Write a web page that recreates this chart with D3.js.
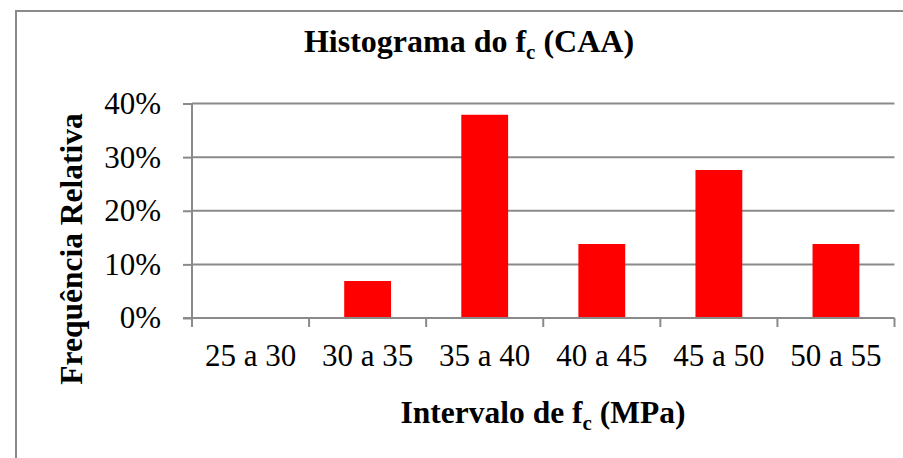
<!DOCTYPE html>
<html>
<head>
<meta charset="utf-8">
<script src="https://cdn.jsdelivr.net/npm/d3@7"></script>
<style>
  html, body { margin: 0; padding: 0; background: #fff; }
  svg { display: block; }
  text { font-family: "Liberation Serif", "Times New Roman", serif; fill: #000; }
</style>
</head>
<body>
<svg id="chart" width="903" height="458"></svg>
<script>
// Histogram of compressive strength classes (relative frequency)
const categories = ["25 a 30", "30 a 35", "35 a 40", "40 a 45", "45 a 50", "50 a 55"];
const frequencies = [0, 0.069, 0.379, 0.138, 0.276, 0.138];
const yTicks = [0, 0.1, 0.2, 0.3, 0.4];

const svg = d3.select("#chart");
const gray = "#8a8a8a";

// Outer chart frame (extends beyond the visible page on right and bottom)
svg.append("rect")
  .attr("x", 16).attr("y", 11)
  .attr("width", 960).attr("height", 500)
  .attr("fill", "#fff")
  .attr("stroke", gray).attr("stroke-width", 2);

const plot = { left: 192, right: 894.5, top: 103.5, bottom: 318 };

const x = d3.scaleBand()
  .domain(categories)
  .range([plot.left, plot.right])
  .paddingInner(0.6)
  .paddingOuter(0.3);

const xEdges = d3.scaleBand()
  .domain(categories)
  .range([plot.left, plot.right])
  .padding(0);

const y = d3.scaleLinear()
  .domain([0, 0.4])
  .range([plot.bottom, plot.top]);

// Horizontal gridlines
svg.append("g")
  .selectAll("line")
  .data(yTicks.filter(t => t > 0))
  .join("line")
  .attr("x1", plot.left).attr("x2", plot.right)
  .attr("y1", d => y(d)).attr("y2", d => y(d))
  .attr("stroke", gray).attr("stroke-width", 2);

// Bars
svg.append("g")
  .selectAll("rect")
  .data(categories.map((c, i) => ({ c, v: frequencies[i] })))
  .join("rect")
  .attr("x", d => x(d.c))
  .attr("width", x.bandwidth())
  .attr("y", d => y(d.v))
  .attr("height", d => y(0) - y(d.v))
  .attr("fill", "#ff0000");

// Y axis
const yAxis = d3.axisLeft(y)
  .tickValues(yTicks)
  .tickFormat(d3.format(".0%"))
  .tickSize(9)
  .tickPadding(22);

const gy = svg.append("g")
  .attr("transform", `translate(${plot.left},0)`)
  .call(yAxis);
gy.select(".domain").attr("stroke", gray).attr("stroke-width", 2)
  .attr("d", `M0,${plot.top}V${plot.bottom + 8}`);
gy.selectAll(".tick line").attr("stroke", gray).attr("stroke-width", 2);
gy.selectAll(".tick text")
  .attr("font-family", "Liberation Serif, Times New Roman, serif")
  .attr("font-size", 31)
  .attr("fill", "#000");

// X axis: tick marks at category edges, labels at band centres
const gx = svg.append("g")
  .attr("transform", `translate(0,${plot.bottom})`);
gx.append("line")
  .attr("x1", plot.left - 9).attr("x2", plot.right)
  .attr("y1", 0).attr("y2", 0)
  .attr("stroke", gray).attr("stroke-width", 2);
const edges = categories.map(c => xEdges(c)).concat([plot.right]);
gx.selectAll("line.edge")
  .data(edges)
  .join("line")
  .attr("class", "edge")
  .attr("x1", d => d).attr("x2", d => d)
  .attr("y1", 0).attr("y2", 9)
  .attr("stroke", gray).attr("stroke-width", 2);
gx.selectAll("text.cat")
  .data(categories)
  .join("text")
  .attr("class", "cat")
  .attr("x", d => xEdges(d) + xEdges.bandwidth() / 2)
  .attr("y", 48)
  .attr("text-anchor", "middle")
  .attr("font-size", 31)
  .text(d => d);

// Chart title with subscript
const title = svg.append("text")
  .attr("x", 469).attr("y", 52)
  .attr("text-anchor", "middle")
  .attr("font-size", 32)
  .attr("font-weight", "bold");
title.append("tspan").text("Histograma do f");
title.append("tspan").attr("font-size", 21).attr("dy", 7).text("c");
title.append("tspan").attr("dy", -7).text(" (CAA)");

// X axis title
const xTitle = svg.append("text")
  .attr("x", 543).attr("y", 423)
  .attr("text-anchor", "middle")
  .attr("font-size", 31.5)
  .attr("font-weight", "bold");
xTitle.append("tspan").text("Intervalo de f");
xTitle.append("tspan").attr("font-size", 21).attr("dy", 7).text("c");
xTitle.append("tspan").attr("dy", -7).text(" (MPa)");

// Y axis title
svg.append("text")
  .attr("transform", "translate(82,249) rotate(-90)")
  .attr("text-anchor", "middle")
  .attr("font-size", 31.5)
  .attr("font-weight", "bold")
  .text("Frequência Relativa");
</script>
</body>
</html>
